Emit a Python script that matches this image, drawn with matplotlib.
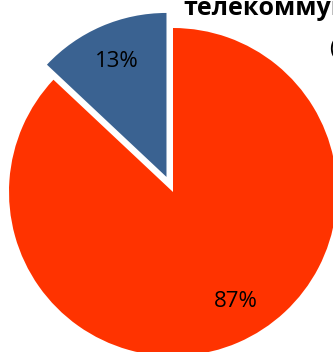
import matplotlib.pyplot as plt

# share of the two categories, in percent
labels = ['a', 'b']
shares = [13, 87]
colors = ['#3A6291', '#FF3300']
explode = [0.1, 0.0]

W, H = 333, 352
fig = plt.figure(figsize=(W / 100, H / 100), dpi=100)
ax = fig.add_axes([0, 0, 1, 1])

wedges, texts, autotexts = ax.pie(
    shares, colors=colors, explode=explode, startangle=90,
    counterclock=True, autopct='%d%%', pctdistance=0.77,
    wedgeprops=dict(linewidth=0),
    textprops=dict(fontsize=16, family='Open Sans', color='black'))

# pie center sits at (173, 192) px with a 164 px radius
cx, cy, r = 173, 192, 164
ax.set_xlim(-cx / r, (W - cx) / r)
ax.set_ylim(-(H - cy) / r, cy / r)
ax.set_aspect('auto')
ax.axis('off')

# larger slice label sits a bit further round, towards the right
autotexts[1].set_position((0.38, -0.665))

fig.text(183 / W, 1 - 15 / H, 'телекоммуникаций', fontsize=18,
         fontweight='bold', family='Open Sans', va='baseline', ha='left')
fig.text(330 / W, 1 - 56 / H, '(% от общего числа)', fontsize=16,
         family='Open Sans', va='baseline', ha='left')

fig.savefig('out.png', dpi=100)
